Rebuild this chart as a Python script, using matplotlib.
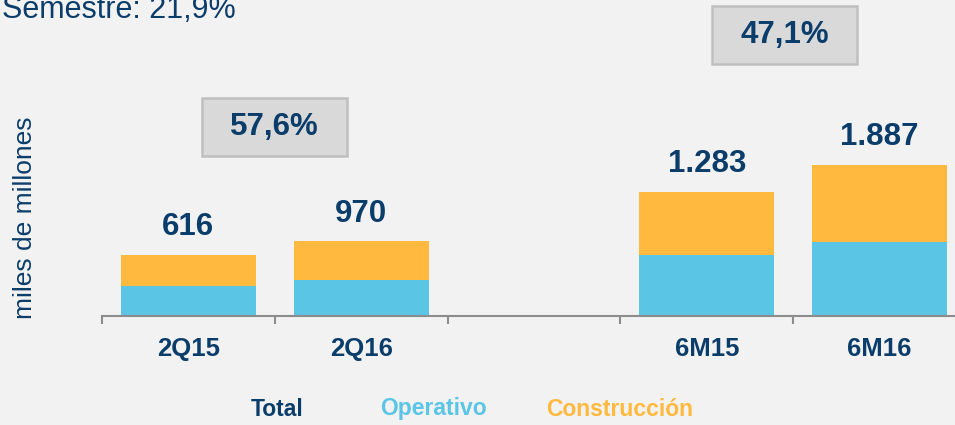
import matplotlib.pyplot as plt
import matplotlib.patches as mpatches

plt.rcParams['font.family'] = ['Liberation Sans', 'DejaVu Sans']

categorias = ['2Q15', '2Q16', '', '6M15', '6M16']
operativo = [298, 362, 0, 610, 744]
construccion = [318, 389, 0, 636, 771]
etiquetas_total = ['616', '970', '', '1.283', '1.887']
variaciones = ['57,6%', '47,1%']
pos_variaciones = [(0.5, 1900), (3.45, 2824)]

azul = '#0b3d6b'
celeste = '#5bc5e6'
naranja = '#ffb93e'
fondo = '#f2f2f2'

fig = plt.figure(figsize=(9.55, 4.25), dpi=100, facecolor=fondo)
ax = fig.add_axes([102 / 955, 109 / 425, 864 / 955, 316 / 425])
ax.set_facecolor(fondo)

x = list(range(len(categorias)))
ax.bar(x, operativo, width=0.78, color=celeste, zorder=2)
ax.bar(x, construccion, width=0.78, bottom=operativo, color=naranja, zorder=2)

for i, txt in enumerate(etiquetas_total):
    if txt:
        total = operativo[i] + construccion[i]
        ax.annotate(txt, (i, total), xytext=(0, 20), textcoords='offset points',
                    ha='center', va='center', fontsize=22.5, fontweight='bold', color=azul)

for txt, (px, py) in zip(variaciones, pos_variaciones):
    ax.add_patch(mpatches.Rectangle((px - 0.42, py - 291), 0.84, 583, facecolor='#d9d9d9',
                                    edgecolor='#bfbfbf', lw=1.8, zorder=3, clip_on=False))
    ax.text(px, py, txt, ha='center', va='center', fontsize=22.5, fontweight='bold',
            color=azul, zorder=4)

ax.set_xlim(-0.5, 4.5)
ax.set_ylim(0, 3176)
ax.set_xticks(x)
ax.set_xticklabels(categorias, fontsize=18.5, fontweight='bold', color=azul)
ax.set_xticks([-0.5, 0.5, 1.5, 2.5, 3.5], minor=True)
ax.tick_params(axis='x', which='major', length=0, pad=15)
ax.tick_params(axis='x', which='minor', length=6, width=1.5, color='#8c8c8c', direction='out')
ax.set_yticks([])
for s in ['top', 'right', 'left']:
    ax.spines[s].set_visible(False)
ax.spines['bottom'].set_color('#8c8c8c')
ax.spines['bottom'].set_linewidth(1.5)

fig.text(25 / 955, 1 - 218 / 425, 'miles de millones', rotation=90, ha='center', va='center',
         fontsize=19, color=azul)
fig.text(0.002, 1 - 18 / 425, 'Semestre: 21,9%', ha='left', va='baseline', fontsize=22, color=azul)

leyenda = [('Total', azul, 277), ('Operativo', celeste, 433), ('Construcción', naranja, 620)]
for txt, col, px in leyenda:
    fig.text(px / 955, 1 - 409 / 425, txt, ha='center', va='center', fontsize=16.5,
             fontweight='bold', color=col)

fig.savefig('out.png', dpi=100, facecolor=fondo)
